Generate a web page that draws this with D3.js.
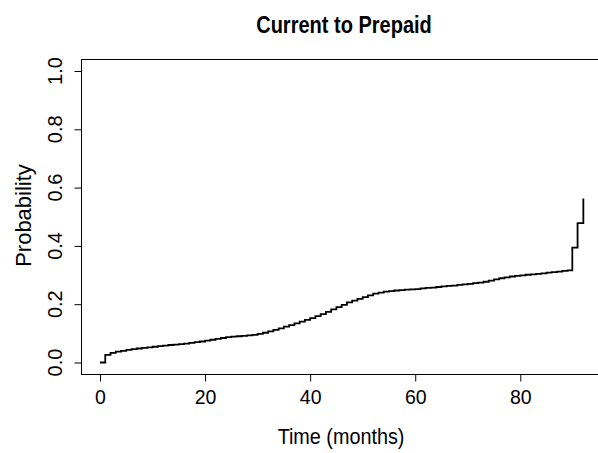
<!DOCTYPE html>
<html>
<head>
<meta charset="utf-8">
<script src="https://cdn.jsdelivr.net/npm/d3@7"></script>
<style>
html,body{margin:0;padding:0;background:#fff;}
svg{display:block;}
text{font-family:"Liberation Sans",Arial,Helvetica,sans-serif;fill:#000;}
</style>
</head>
<body>
<svg id="chart" width="598" height="453"></svg>
<script>
// Time points (months) and cumulative probability (step function)
const times = [0,1,2,3,4,5,6,7,8,9,10,11,12,13,14,15,16,17,18,19,20,21,22,23,24,25,26,27,28,29,
  30,31,32,33,34,35,36,37,38,39,40,41,42,43,44,45,46,47,48,49,50,51,52,53,54,55,56,57,58,59,
  60,61,62,63,64,65,66,67,68,69,70,71,72,73,74,75,76,77,78,79,80,81,82,83,84,85,86,87,88,89,
  89.9,90.9,92];
const probs = [0.000,0.026,0.033,0.037,0.040,0.043,0.046,0.048,0.050,0.052,0.054,0.056,0.058,0.060,0.061,
  0.063,0.065,0.067,0.070,0.072,0.075,0.078,0.081,0.084,0.087,0.089,0.090,0.091,0.093,0.095,
  0.098,0.102,0.107,0.112,0.117,0.123,0.128,0.134,0.140,0.146,0.152,0.159,0.166,0.174,0.182,
  0.190,0.198,0.206,0.212,0.218,0.224,0.230,0.236,0.240,0.243,0.245,0.247,0.248,0.250,0.251,
  0.252,0.254,0.256,0.257,0.259,0.261,0.263,0.264,0.266,0.268,0.270,0.272,0.274,0.277,0.281,
  0.285,0.289,0.292,0.295,0.297,0.299,0.301,0.302,0.304,0.306,0.308,0.310,0.312,0.314,0.316,
  0.394,0.478,0.563];
const xTicks = [0,20,40,60,80];
const yTicks = [0.0,0.2,0.4,0.6,0.8,1.0];
const yTickLabels = ["0.0","0.2","0.4","0.6","0.8","1.0"];
const titleText = "Current to Prepaid";
const xLabel = "Time (months)";
const yLabel = "Probability";

const svg = d3.select("#chart");
const x = d3.scaleLinear().domain([0,80]).range([100,520.3]);
const y = d3.scaleLinear().domain([0,1]).range([362.5,71]);

const xmin = d3.min(times), xmax = d3.max(times);
const xr = xmax - xmin;
const bx0 = x(xmin - 0.04*xr), bx1 = x(xmax + 0.04*xr);
const by0 = y(1.04), by1 = y(-0.04);

// plot box
svg.append("rect")
  .attr("x", Math.round(bx0)+0.5).attr("y", Math.round(by0)+0.5)
  .attr("width", bx1 - bx0).attr("height", Math.round(by1)-Math.round(by0))
  .attr("fill","none").attr("stroke","#000").attr("stroke-width",1);

// step line
const data = times.map((t,i)=>[t, probs[i]]);
const line = d3.line().x(d=>x(d[0])).y(d=>y(d[1])).curve(d3.curveStepAfter);
svg.append("path").datum(data)
  .attr("d", line).attr("fill","none").attr("stroke","#000").attr("stroke-width",1.8);

// x axis
const xAxis = d3.axisBottom(x).tickValues(xTicks).tickSize(7).tickPadding(9).tickFormat(d3.format("d"));
const gx = svg.append("g").attr("transform", `translate(0,${Math.round(by1)+0.5})`).call(xAxis);
gx.select(".domain").remove();
gx.selectAll(".tick line").attr("stroke","#000");
gx.selectAll(".tick text").attr("font-size","19.5px").attr("fill","#000")
  .attr("font-family","'Liberation Sans',Arial,sans-serif");

// y axis
const yAxis = d3.axisLeft(y).tickValues(yTicks).tickSize(7).tickFormat((d,i)=>yTickLabels[i]);
const gy = svg.append("g").attr("transform", `translate(${Math.round(bx0)+0.5},0)`).call(yAxis);
gy.select(".domain").remove();
gy.selectAll(".tick line").attr("stroke","#000");
gy.selectAll(".tick text").remove();
svg.append("g").selectAll("text").data(yTicks).join("text")
  .attr("transform", d=>`translate(62,${y(d)}) rotate(-90)`)
  .attr("text-anchor","middle").attr("font-size","20px")
  .text((d,i)=>yTickLabels[i]);

// title
svg.append("text").attr("transform","translate(344,33) scale(0.87,1)")
  .attr("text-anchor","middle").attr("font-weight","bold").attr("font-size","23px").text(titleText);
// x label
svg.append("text").attr("transform","translate(341,444) scale(0.9,1)")
  .attr("text-anchor","middle").attr("font-size","22px").text(xLabel);
// y label
svg.append("text").attr("transform","translate(31,215.5) rotate(-90)")
  .attr("text-anchor","middle").attr("font-size","22px").text(yLabel);
</script>
</body>
</html>
